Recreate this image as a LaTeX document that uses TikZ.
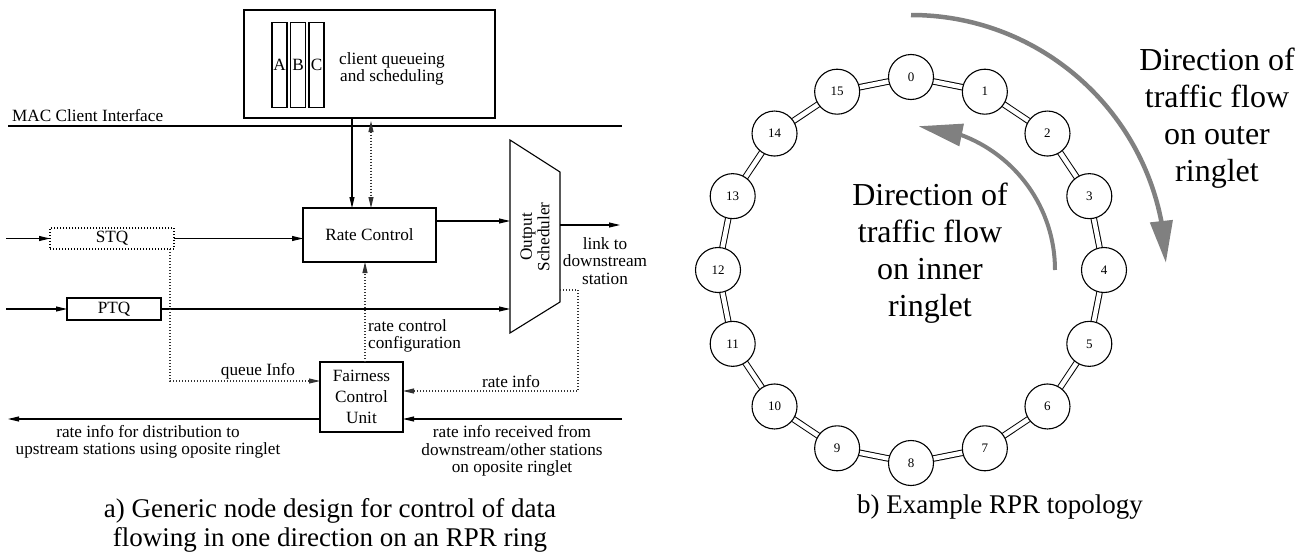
\documentclass[tikz,border=0pt]{standalone}
\usepackage{fontspec}
\setmainfont{Liberation Serif}
\usetikzlibrary{arrows.meta,bending,backgrounds,calc}

\begin{document}
\begin{tikzpicture}[x=1pt,y=1pt,
  lw/.style={line width=1.1pt},
  box/.style={draw,lw,inner sep=0pt,outer sep=0pt},
  lbl/.style={font=\fontsize{17.2}{17.5}\selectfont,inner sep=0pt},
  arr/.style={lw,-{Triangle[length=11pt,width=5pt]}},
  dotl/.style={lw,dash pattern=on 1pt off 2pt,black!80},
  dotarr/.style={dotl,-{Triangle[length=11pt,width=5pt]}},
  ringnode/.style={circle,draw,lw,fill=white,minimum size=45pt,inner sep=0pt,
                   font=\fontsize{13}{13}\selectfont},
  ringlink/.style={line width=1pt,double=white,double distance=4.5pt},
  flow/.style={draw=black!50,line width=4.5pt},
  bigtext/.style={font=\fontsize{32}{37}\selectfont,align=center,inner sep=0pt},
  captext/.style={font=\fontsize{27}{29}\selectfont,align=center,inner sep=0pt}
]
\useasboundingbox (0,0) rectangle (1307,-554);

% ---------- a) node design ----------
% MAC client side
\node[box,minimum width=251pt,minimum height=108pt,anchor=north west] (client) at (244,-10) {};
\node[box,lbl,minimum width=15pt,minimum height=85pt] (qa) at (279.5,-65) {A};
\node[box,lbl,minimum width=15pt,minimum height=85pt] (qb) at (298,-65) {B};
\node[box,lbl,minimum width=15pt,minimum height=85pt] (qc) at (316.5,-65) {C};
\node[lbl,align=center] (cq) at (392,-69) {client queueing\\and scheduling};

\coordinate (macL) at (8,-126);
\coordinate (macR) at (622,-126);
\draw[lw] (macL) -- (macR);
\node[lbl,anchor=base west] (mac) at (12,-121) {MAC Client Interface};

% rate control
\node[box,lbl,minimum width=133pt,minimum height=54pt] (rc) at (369.5,-235) {Rate Control};
\draw[arr] ([xshift=-17.5pt]client.south) -- ([xshift=-17.5pt]rc.north);
\draw[dotl,{Triangle[length=11pt,width=5pt]}-{Triangle[length=11pt,width=5pt]}]
  ([xshift=1.5pt,yshift=-3pt]client.south) -- ([xshift=1.5pt]rc.north);

% output scheduler
\coordinate (s1) at (510,-140);
\coordinate (s2) at (560,-172);
\coordinate (s3) at (560,-302);
\coordinate (s4) at (510,-333);
\draw[lw] (s1) -- (s2) -- (s3) -- (s4) -- cycle;
\node[lbl,rotate=90,align=center] (sched) at (535,-237) {Output\\Scheduler};
\draw[arr] ([yshift=14pt]rc.east) -- ([yshift=14pt]rc.east -| s1);

\coordinate (out) at (620,-225);
\draw[arr] (out -| s2) -- (out);
\node[lbl,align=center] (link) at (605,-261) {link to\\downstream\\station};

% transit and primary queues
\node[box,dash pattern=on 1pt off 2pt,lbl,minimum width=124pt,minimum height=21pt] (stq) at (112,-238.5) {STQ};
\node[box,lbl,minimum width=94pt,minimum height=22pt] (ptq) at (114,-309) {PTQ};
\coordinate (inL) at (6,0);
\draw[arr] (stq.west -| inL) -- (stq.west);
\draw[arr] (ptq.west -| inL) -- (ptq.west);
\draw[arr] (stq.east) -- (stq.east -| rc.west);
\draw[arr] (ptq.east) -- (ptq.east -| s1);

% fairness control unit
\node[box,align=center,minimum width=83pt,minimum height=70pt,
      font=\fontsize{17.2}{21}\selectfont] (fcu) at (361.5,-397) {Fairness\\Control\\Unit};

\draw[dotarr] ([xshift=-4pt]stq.south east) |- ([yshift=16pt]fcu.west);
\node[lbl] (qinfo) at (258,-371) {queue Info};

\coordinate (ri) at (578,-290);
\draw[dotarr] (ri -| s2) -- (ri) |- ([yshift=6pt]fcu.east);
\node[lbl] (rinfo) at (511,-382) {rate info};

\draw[dotarr] ([xshift=3.5pt]fcu.north) -- ([xshift=3.5pt]fcu.north |- rc.south);
\node[lbl,align=left,anchor=west] (rcc) at (368,-336) {rate control\\configuration};

\coordinate (outL) at (8,0);
\coordinate (inR) at (622,0);
\draw[arr] ([yshift=-22pt]fcu.west) -- ([yshift=-22pt]fcu.west -| outL);
\draw[arr] ([yshift=-22pt]fcu.east -| inR) -- ([yshift=-22pt]fcu.east);
\node[lbl,align=center] (upl) at (148,-442) {rate info for distribution to\\upstream stations using oposite ringlet};
\node[lbl,align=center] (dnl) at (512,-451) {rate info received from\\downstream/other stations\\on oposite ringlet};

\node[captext] (capa) at (330,-525) {a) Generic node design for control of data\\flowing in one direction on an RPR ring};

% ---------- b) ring topology ----------
\coordinate (ringc) at (911,-270);
\foreach \i in {0,...,15}
  \node[ringnode] (n\i) at ($(ringc)+({90-22.5*\i}:193)$) {\i};
\begin{scope}[on background layer]
  \foreach \i [evaluate=\i as \j using {int(mod(\i+1,16))}] in {0,...,15}
    \draw[ringlink] (n\i.center) -- (n\j.center);
\end{scope}

% traffic direction arrows
\draw[flow,-{Triangle[length=42pt,width=22pt,flex]}]
  ([shift={(90:255)}]ringc) arc[start angle=90,end angle=1.6,radius=255pt];
\draw[flow,line width=4pt,-{Triangle[length=44pt,width=22pt,flex]}]
  ([shift={(0:144)}]ringc) arc[start angle=0,end angle=87,radius=144pt];

\node[bigtext] (outer) at (1217,-118) {Direction of\\traffic flow\\on outer\\ringlet};
\node[bigtext] (inner) at (930,-253) {Direction of\\traffic flow\\on inner\\ringlet};

\node[captext] (capb) at (1000,-507) {b) Example RPR topology};
\end{tikzpicture}
\end{document}
